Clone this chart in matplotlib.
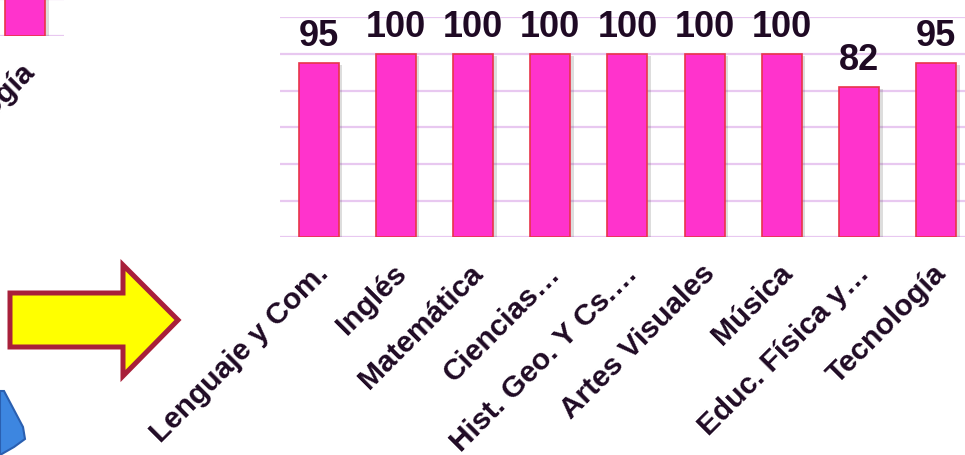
import numpy as np
import matplotlib.pyplot as plt
import matplotlib.patheffects as pe
import matplotlib.transforms as mtransforms
from matplotlib.patches import Polygon

plt.rcParams['font.family'] = ['Liberation Sans', 'DejaVu Sans']
plt.rcParams['font.weight'] = 'bold'

# datos del grafico
asignaturas = ['Lenguaje y Com.', 'Inglés', 'Matemática', 'Ciencias…',
               'Hist. Geo. Y Cs.…', 'Artes Visuales', 'Música',
               'Educ. Física y…', 'Tecnología']
porcentajes = [95, 100, 100, 100, 100, 100, 100, 82, 95]

# fragmento del grafico anterior (cortado en la diapositiva)
prev_asignaturas = ['Tecnología']
prev_porcentajes = [100]

FILL = '#ff33cc'
EDGE = '#e8354a'
GRID = '#e8c8f0'
TXT = '#1f0a24'

W, H = 965, 456
fig = plt.figure(figsize=(W / 100, H / 100), dpi=100)
fig.patch.set_facecolor('white')

pitch = 77.2
plot_h = 220.0


def draw_chart(ax, labels, values, show_values=True):
    x = np.arange(len(labels))
    bars = ax.bar(x, values, width=0.52, color=FILL, edgecolor=EDGE,
                  linewidth=1.2, zorder=3)
    for b in bars:
        b.set_path_effects([pe.SimplePatchShadow(offset=(2.5, -1.5), alpha=0.2,
                                                 shadow_rgbFace='#555555'),
                            pe.Normal()])
    ax.set_xlim(-0.5, len(labels) - 0.5)
    ax.set_ylim(0, 120)
    ax.set_yticks(np.arange(0, 121, 20))
    ax.yaxis.grid(True, color=GRID, linewidth=1.6, zorder=0)
    ax.set_axisbelow(True)
    for s in ax.spines.values():
        s.set_visible(False)
    ax.tick_params(axis='both', length=0)
    ax.set_yticklabels([])
    ax.set_xticks(x)
    ax.set_xticklabels(labels, rotation=45, ha='right', rotation_mode='anchor',
                       fontsize=21.5, fontweight='bold', color=TXT)
    ax.tick_params(axis='x', pad=15)
    shift = mtransforms.ScaledTranslation(-0.04, 0, fig.dpi_scale_trans)
    for lbl in ax.get_xticklabels():
        lbl.set_transform(lbl.get_transform() + shift)
    if show_values:
        for xi, v in zip(x, values):
            ax.annotate(str(v), (xi, v), xytext=(0, 7), textcoords='offset points',
                        ha='center', va='bottom', fontsize=26,
                        fontweight='bold', color=TXT)


# grafico principal
left = 280.0
base = 238.3
ax = fig.add_axes([left / W, (H - base) / H, pitch * len(asignaturas) / W, plot_h / H])
ax.patch.set_alpha(0)
draw_chart(ax, asignaturas, porcentajes)

# grafico anterior, casi fuera de la imagen
prev_left = 25 - pitch / 2
prev_base = 37.0
ax_prev = fig.add_axes([prev_left / W, (H - prev_base) / H, pitch / W, plot_h / H])
ax_prev.patch.set_alpha(0)
draw_chart(ax_prev, prev_asignaturas, prev_porcentajes, show_values=False)

# capa decorativa: flecha amarilla y objeto azul
deco = fig.add_axes([0, 0, 1, 1], zorder=-1)
deco.set_xlim(0, W)
deco.set_ylim(H, 0)
deco.axis('off')

arrow = [(10, 294), (123, 294), (123, 266), (178, 321),
         (123, 377), (123, 348), (10, 348)]
deco.add_patch(Polygon(arrow, closed=True, facecolor='#ffff00',
                       edgecolor='#a8203a', linewidth=3.6, joinstyle='miter'))

blue = [(0, 392), (4, 392), (23, 428), (25, 440), (14, 448), (0, 456)]
deco.add_patch(Polygon(blue, closed=True, facecolor='#3d86e0',
                       edgecolor='#2a5fb0', linewidth=1.5))

fig.savefig('out.png', dpi=100, facecolor='white')
